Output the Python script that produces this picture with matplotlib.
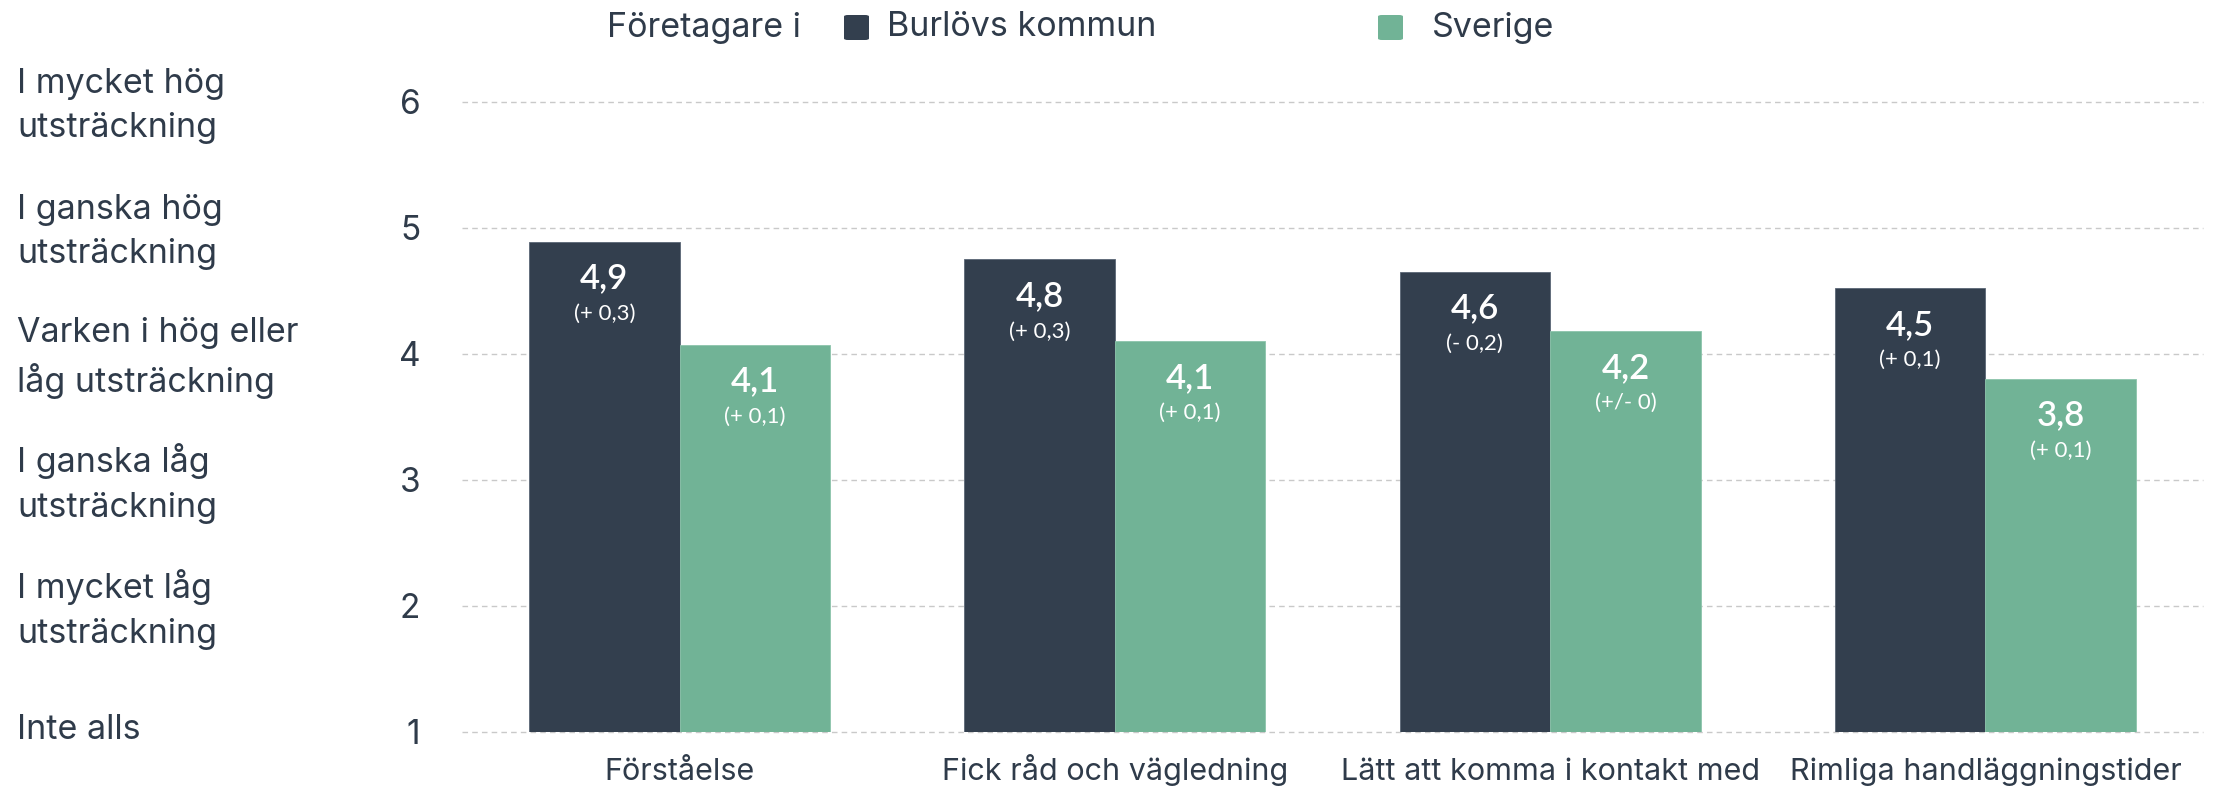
import matplotlib
matplotlib.use("Agg")
import matplotlib.pyplot as plt
from matplotlib.patches import FancyBboxPatch
import matplotlib.transforms as mtransforms
import numpy as np

categories = ["Förståelse", "Fick råd och vägledning", "Lätt att komma i kontakt med", "Rimliga handläggningstider"]
burlov = [4.89, 4.75, 4.65, 4.52]
sverige = [4.07, 4.10, 4.18, 3.80]
burlov_labels = ["4,9", "4,8", "4,6", "4,5"]
sverige_labels = ["4,1", "4,1", "4,2", "3,8"]
burlov_changes = ["(+ 0,3)", "(+ 0,3)", "(- 0,2)", "(+ 0,1)"]
sverige_changes = ["(+ 0,1)", "(+ 0,1)", "(+/- 0)", "(+ 0,1)"]
yticks = [1, 2, 3, 4, 5, 6]
scale_labels = ["Inte alls", "I mycket låg\nutsträckning", "I ganska låg\nutsträckning",
                "Varken i hög eller\nlåg utsträckning", "I ganska hög\nutsträckning",
                "I mycket hög\nutsträckning"]
legend_title = "Företagare i"
series_names = ["Burlövs kommun", "Sverige"]

DARK = "#333f4e"
GREEN = "#71b396"
TEXT = "#2f3b4a"
FONT = ["Inter", "DejaVu Sans"]
LABEL_FONT = ["Lato", "DejaVu Sans"]

fig = plt.figure(figsize=(22.14, 7.88), dpi=100)
ax = fig.add_axes([462/2214, 56.5/788, (2203-462)/2214, (731.5-101.7)/788])

x = np.arange(len(categories))
w = 0.346
ax.bar(x - w/2, np.array(burlov) - 1, w, bottom=1, color=DARK, edgecolor="#5a6675", linewidth=0.6, zorder=3)
ax.bar(x + w/2, np.array(sverige) - 1, w, bottom=1, color=GREEN, edgecolor="#8cc4ab", linewidth=0.6, zorder=3)

def put_labels(xs, vals, labs, chs):
    for xi, v, lab, ch in zip(xs, vals, labs, chs):
        ax.annotate(lab, (xi, v), xytext=(0, -26.5), textcoords="offset points", ha="center", va="center",
                    color="white", fontsize=25, fontweight="semibold", family=LABEL_FONT, zorder=4)
        ax.annotate(ch, (xi, v), xytext=(0, -52), textcoords="offset points", ha="center", va="center",
                    color="white", fontsize=16, family=LABEL_FONT, zorder=4)

put_labels(x - w/2, burlov, burlov_labels, burlov_changes)
put_labels(x + w/2, sverige, sverige_labels, sverige_changes)

ax.set_xlim(-0.5, len(categories) - 0.5)
ax.set_ylim(1, 6)
ax.set_yticks(yticks)
ax.set_yticklabels([str(t) for t in yticks], fontsize=24, color=TEXT, family=FONT)
ax.set_xticks(x)
ax.set_xticklabels(categories, fontsize=22, color=TEXT, family=FONT)
for lbl in ax.get_xticklabels():
    lbl.set_va("baseline")
ax.tick_params(axis="y", length=0, pad=30)
ax.tick_params(axis="x", length=0, pad=35)
for s in ax.spines.values():
    s.set_visible(False)
ax.grid(axis="y", color="#c9c9c9", linestyle=(0, (4, 3)), linewidth=1.0, zorder=0)
for gl in ax.get_ygridlines():
    gl.set_clip_on(False)

base = mtransforms.blended_transform_factory(fig.transFigure, ax.transData)
for t, lab in zip(yticks, scale_labels):
    dy = -3 if "\n" in lab else 1
    tr = base + mtransforms.ScaledTranslation(0, dy/72, fig.dpi_scale_trans)
    ax.text(17/2214, t, lab, transform=tr, ha="left", va="center", fontsize=24.5,
            color=TEXT, family=FONT, linespacing=1.5)

# legend
ly = 1 - 27.5/788
fig.text(607/2214, ly, legend_title, ha="left", va="center", fontsize=24.5, color=TEXT, family=FONT)
sq = 25
for (px, tx), name, col in zip([(844, 887), (1378, 1432)], series_names, [DARK, GREEN]):
    fig.patches.append(FancyBboxPatch((px/2214, ly - sq/2/788), sq/2214, sq/788,
                                      boxstyle="round,pad=0,rounding_size=0.0018",
                                      transform=fig.transFigure, facecolor=col, edgecolor="none"))
    fig.text(tx/2214, ly, name, ha="left", va="center", fontsize=24.5, color=TEXT, family=FONT)

fig.savefig("out.png", dpi=100, facecolor="white")
